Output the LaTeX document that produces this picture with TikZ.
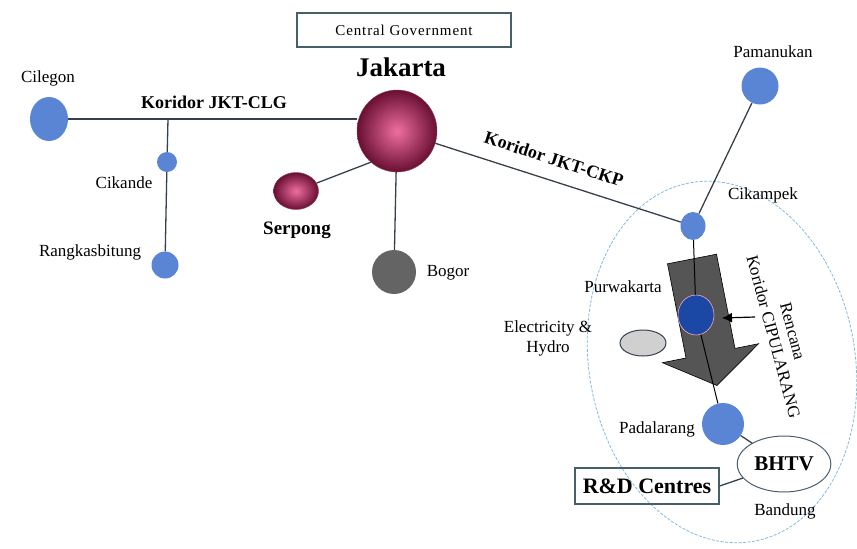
\documentclass[tikz,border=0pt]{standalone}
\usepackage{fontspec}
\setmainfont{Liberation Serif}
\usetikzlibrary{shapes.geometric,arrows.meta}
\definecolor{dotblue}{RGB}{90,132,212}
\definecolor{darkblue}{RGB}{28,72,165}
\definecolor{jakpink}{RGB}{238,110,160}
\definecolor{jakdark}{RGB}{105,15,50}
\definecolor{boggrey}{RGB}{100,100,100}
\definecolor{linegrey}{RGB}{55,65,75}
\definecolor{zoneblue}{RGB}{130,185,220}
\definecolor{arrowgrey}{RGB}{85,85,85}
\definecolor{elecgrey}{RGB}{208,208,208}
\definecolor{boxedge}{RGB}{70,95,105}
\tikzset{
  town/.style={circle,fill=dotblue,inner sep=0pt},
  pinktown/.style={ellipse,inner sep=0pt,draw=jakdark!80,inner color=jakpink,outer color=jakdark},
  link/.style={draw=linegrey,line width=1.3pt},
  lbl/.style={font=\fontsize{17}{20}\selectfont},
  blbl/.style={font=\bfseries\fontsize{18}{21}\selectfont},
  textbox/.style={draw=boxedge,line width=1.2pt,inner sep=0pt}
}
\begin{document}
\begin{tikzpicture}[x=1pt,y=-1pt]
\useasboundingbox (0,0) rectangle (857,549);
\draw[zoneblue,line width=0.8pt,dash pattern=on 3pt off 1.5pt] (722,362) ellipse [x radius=133, y radius=182, rotate=10];
\filldraw[fill=arrowgrey,draw=black,line width=0.6pt] (667.5,263.8) -- (716.5,254.2) -- (735,348.4) -- (758.6,343.7) -- (716.9,385.5) -- (662.4,362.7) -- (686,358) -- cycle;

\node[textbox,minimum width=214pt,minimum height=34pt,lbl,font=\fontsize{15}{18}\selectfont\addfontfeature{LetterSpace=6}] (govt) at (404,30) {Central Government};
\node[font=\bfseries\fontsize{27}{30}\selectfont] (jaklbl) at (401,67) {Jakarta};
\node[pinktown,minimum width=80pt,minimum height=82pt] (jakarta) at (397,131) {};
\node[pinktown,minimum width=45pt,minimum height=37pt] (serpong) at (296,191) {};
\node[circle,fill=boggrey,inner sep=0pt,minimum size=44pt] (bogor) at (394,272) {};
\node[town,ellipse,minimum width=38pt,minimum height=44pt] (cilegon) at (49,119) {};
\node[town,minimum size=20pt] (cikande) at (167,162) {};
\node[town,minimum size=27pt] (rangkas) at (165,265) {};
\node[town,minimum size=37pt] (pamanukan) at (760,86) {};
\node[town,ellipse,minimum width=25pt,minimum height=28pt] (cikampek) at (693,226) {};
\node[town,fill=darkblue,draw=jakpink!60,line width=0.6pt,ellipse,minimum width=36pt,minimum height=40pt] (purwakarta) at (696,315) {};
\node[town,minimum size=42pt] (padalarang) at (723,424) {};
\node[ellipse,fill=elecgrey,draw=linegrey,line width=1pt,minimum width=46pt,minimum height=26pt] (elec) at (643,343) {};
\node[ellipse,draw=boxedge,line width=1pt,minimum width=76pt,minimum height=56pt,font=\bfseries\fontsize{21}{24}\selectfont] (bhtv) at (784,464) {BHTV};
\node[textbox,minimum width=144pt,minimum height=36pt,font=\bfseries\fontsize{22}{25}\selectfont] (rnd) at (647,486) {R\&D Centres};

\coordinate (clgjct) at (168,119);
\draw[link] (cilegon) -- (cilegon -| jakarta.west);
\draw[link] (clgjct) -- (cikande);
\draw[link] (cikande) -- (rangkas);
\draw[link] (serpong) -- (jakarta.230);
\draw[link] (jakarta) -- (bogor);
\draw[link] (jakarta) -- (cikampek);
\draw[link] (cikampek) -- (pamanukan);
\draw[link,line width=1pt,black] (cikampek) -- (purwakarta);
\draw[link,line width=1pt,black] (purwakarta) -- (padalarang);
\draw[link] (padalarang) -- (bhtv);
\draw[link] (rnd.east) -- (bhtv);

\coordinate (ciptail) at (755,317);
\coordinate (ciphead) at (722,318);
\draw[black,line width=1.2pt,-{Latex[length=10pt,width=10pt]}] (ciptail) -- (ciphead);

\node[lbl] (cilegonlbl) at (48,78) {Cilegon};
\node[blbl] (clglbl) at (214,102) {Koridor JKT-CLG};
\node[lbl] (cikandelbl) at (124,183) {Cikande};
\node[lbl] (rangkaslbl) at (90,252) {Rangkasbitung};
\node[blbl,font=\bfseries\fontsize{19}{22}\selectfont] (serponglbl) at (297,230) {Serpong};
\node[lbl] (bogorlbl) at (448,273) {Bogor};
\node[blbl,rotate=-18] (ckplbl) at (554,159) {Koridor JKT-CKP};
\node[lbl] (pamanukanlbl) at (773,52) {Pamanukan};
\node[lbl] (cikampeklbl) at (763,195) {Cikampek};
\node[lbl] (purwakartalbl) at (623,287) {Purwakarta};
\node[lbl,align=center] (eleclbl) at (548,338) {Electricity \&\\Hydro};
\node[lbl] (padalaranglbl) at (657,429) {Padalarang};
\node[lbl] (bandunglbl) at (785,511) {Bandung};
\node[lbl,align=center,rotate=-75] (ciplbl) at (783,334) {Rencana\\Koridor CIPULARANG};
\end{tikzpicture}
\end{document}
